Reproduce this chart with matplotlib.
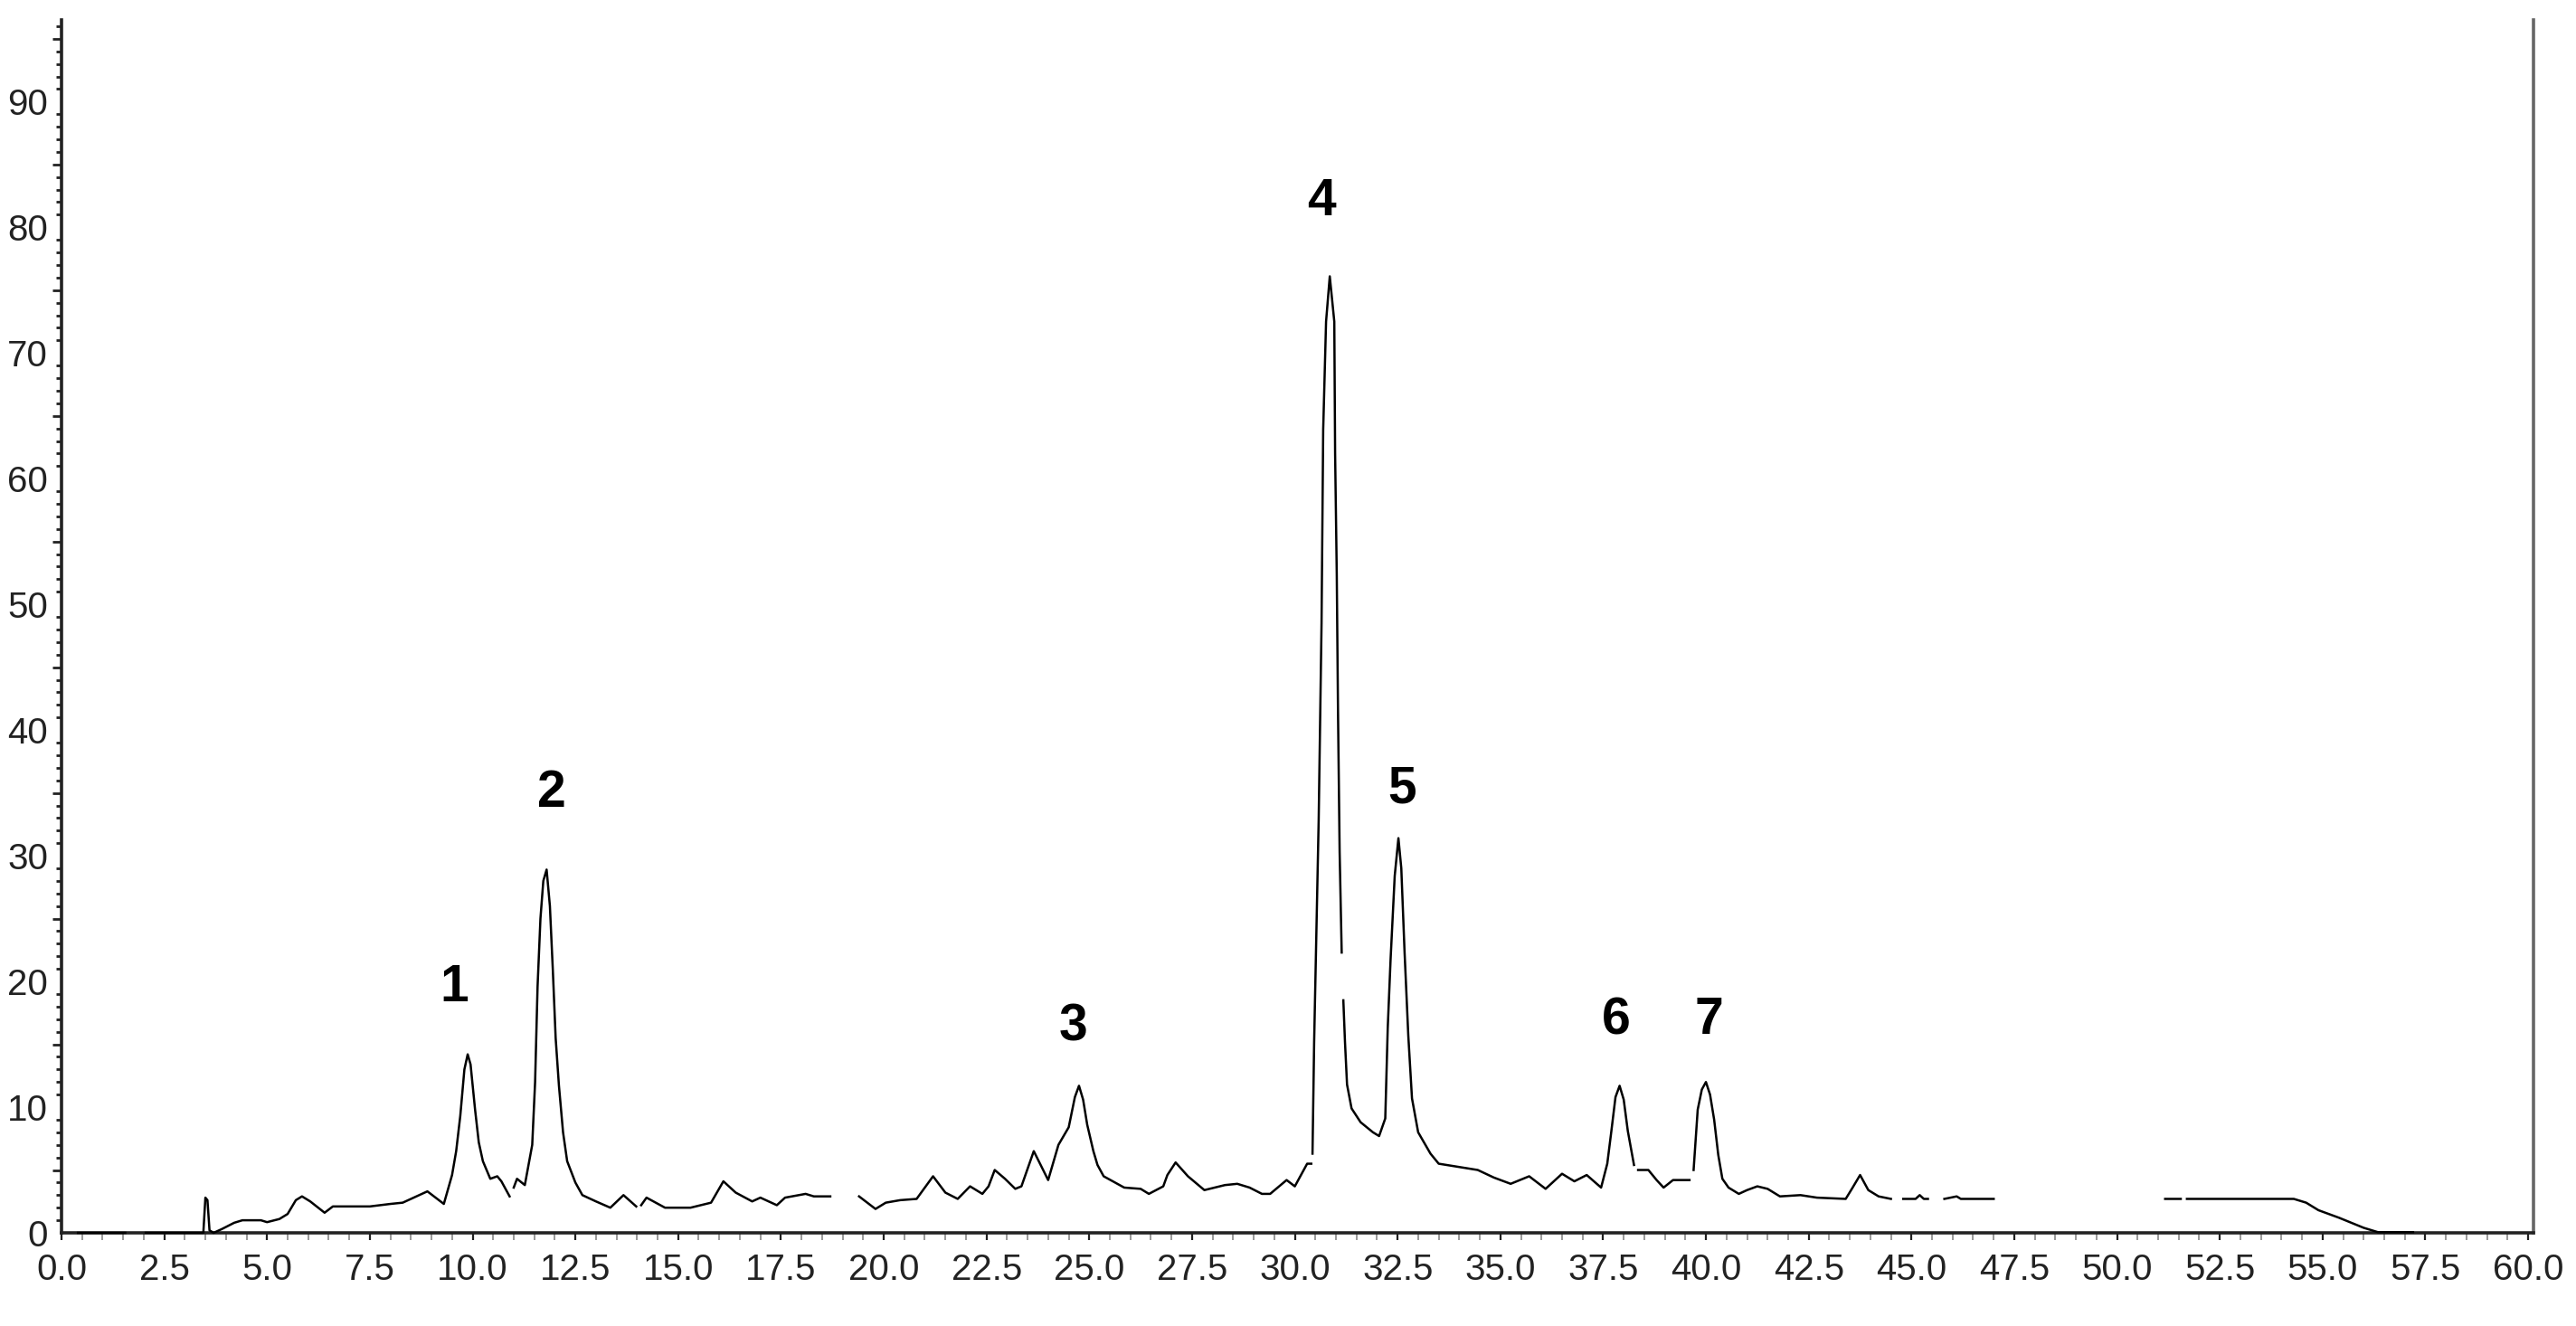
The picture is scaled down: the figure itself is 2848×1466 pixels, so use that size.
import numpy as np
import matplotlib
matplotlib.use('Agg')
import matplotlib.pyplot as plt
from matplotlib.ticker import MultipleLocator, FuncFormatter

plt.rcParams['font.family'] = ['Liberation Sans', 'DejaVu Sans']

nan = np.nan
# retention time (min) and detector response; nan = gap in the trace
time = [0.40, 1.55, nan, 2.05, 3.45, 3.50, 3.55, 3.60, 3.70, 3.90, 4.20, 4.40, 4.85, 5.00,
        5.30, 5.50, 5.70, 5.85, 6.05, 6.40, 6.60, 7.50, 8.00, 8.30, 8.50, 8.90, 9.10, 9.30,
        9.50, 9.60, 9.70, 9.80, 9.88, 9.95, 10.06, 10.15, 10.25, 10.43, 10.60, 10.70, 10.90,
        nan, 11.00, 11.08, 11.27, 11.45, 11.52, 11.58, 11.65, 11.72, 11.80, 11.88, 11.95,
        12.02, 12.10, 12.20, 12.30, 12.50, 12.67, 13.00, 13.35, 13.67,
        13.98, nan, 14.10, 14.23, 14.68, 15.30, 15.80, 16.10, 16.40, 16.80, 17.00, 17.40,
        17.60, 18.10, 18.30, 18.70, nan, 19.40, 19.80, 20.05, 20.40, 20.80, 21.20, 21.50,
        21.80, 22.10, 22.40, 22.55, 22.70, 22.95, 23.20, 23.35, 23.65, 24.00, 24.25, 24.50,
        24.65, 24.75, 24.85, 24.95, 25.10, 25.20, 25.35, 25.85, 26.25, 26.45, 26.80, 26.90,
        27.10, 27.40, 27.80, 28.30, 28.60, 28.90, 29.20, 29.40, 29.80, 30.00, 30.30, 30.40,
        nan, 30.43, 30.47, 30.52, 30.58, 30.65, 30.69, 30.76, 30.85, 30.96, 30.98, 31.02,
        31.05, 31.09, 31.14, nan, 31.18, 31.22, 31.27, 31.38, 31.60, 31.90, 32.05, 32.20,
        32.26, 32.33, 32.43, 32.52, 32.59, 32.67, 32.76, 32.85, 33.00, 33.30, 33.50, 34.45,
        34.84, 35.25, 35.70, 36.10, 36.50, 36.80, 37.10, 37.45, 37.60, 37.70, 37.80, 37.90,
        38.00, 38.10, 38.25, nan, 38.35, 38.60, 38.80, 38.97, 39.20, 39.60, nan, 39.70,
        39.80, 39.90, 40.00, 40.10, 40.20, 40.30, 40.40, 40.55, 40.80,
        41.00, 41.25, 41.50, 41.80, 42.30, 42.70, 43.40, 43.55, 43.75, 43.95, 44.20, 44.50,
        nan, 44.80, 45.10, 45.20, 45.30, 45.40, nan, 45.80, 46.10, 46.20, 47.00, nan, 51.17,
        51.55, nan, 51.70, 54.30, 54.60, 54.90, 55.40, 56.00, 56.35, 57.20]
signal = [0.0, 0.0, nan, 0.0, 0.0, 2.8, 2.6, 0.2, 0.0, 0.3, 0.8, 1.0, 1.0, 0.85,
          1.1, 1.5, 2.6, 2.9, 2.5, 1.6, 2.1, 2.1, 2.3, 2.4, 2.7, 3.3, 2.8, 2.3,
          4.6, 6.5, 9.3, 13.0, 14.2, 13.4, 9.8, 7.2, 5.7, 4.3, 4.5, 4.1, 2.9,
          nan, 3.6, 4.3, 3.8, 7.0, 12.0, 19.6, 25.0, 28.0, 28.9, 26.0, 21.0,
          15.5, 11.7, 8.0, 5.7, 4.0, 3.0, 2.5, 2.0, 3.0,
          2.1, nan, 2.2, 2.8, 2.0, 2.0, 2.4, 4.1, 3.2, 2.5, 2.8, 2.2,
          2.8, 3.1, 2.9, 2.9, nan, 2.9, 1.9, 2.4, 2.6, 2.7, 4.5, 3.2,
          2.7, 3.7, 3.1, 3.7, 5.0, 4.3, 3.5, 3.7, 6.5, 4.2, 7.0, 8.4,
          10.8, 11.7, 10.6, 8.6, 6.5, 5.4, 4.5, 3.6, 3.5, 3.1, 3.7, 4.6,
          5.6, 4.5, 3.4, 3.8, 3.9, 3.6, 3.1, 3.1, 4.2, 3.7, 5.5, 5.5,
          nan, 6.3, 15.2, 23.1, 32.8, 48.5, 63.9, 72.5, 76.1, 72.5, 62.0, 52.4,
          41.6, 30.3, 22.3, nan, 18.5, 15.2, 11.8, 9.9, 8.8, 8.0, 7.7, 9.1,
          16.3, 21.8, 28.4, 31.4, 29.0, 22.3, 15.7, 10.7, 8.0, 6.3, 5.5, 5.0,
          4.4, 3.9, 4.5, 3.5, 4.7, 4.1, 4.6, 3.6, 5.5, 8.1, 10.8, 11.7,
          10.6, 8.1, 5.4, nan, 5.0, 5.0, 4.2, 3.6, 4.2, 4.2, nan, 5.0,
          9.8, 11.4, 12.0, 11.0, 9.0, 6.2, 4.3, 3.6, 3.1,
          3.4, 3.7, 3.5, 2.9, 3.0, 2.8, 2.7, 3.5, 4.6, 3.4, 2.9, 2.7,
          nan, 2.7, 2.7, 3.0, 2.7, 2.7, nan, 2.7, 2.9, 2.7, 2.7, nan, 2.7,
          2.7, nan, 2.7, 2.7, 2.4, 1.8, 1.2, 0.4, 0.05, 0.05]

peak_labels = ['1', '2', '3', '4', '5', '6', '7']
peak_label_x = [9.55, 11.93, 24.6, 30.65, 32.6, 37.82, 40.07]
peak_label_y = [19.5, 35.0, 16.4, 82.0, 35.3, 16.9, 16.9]

fig = plt.figure(figsize=(14.24, 7.33), dpi=200)
ax = fig.add_axes([68 / 2848, 1 - 1363 / 1466, (2801 - 68) / 2848, (1363 - 22) / 1466])

ax.plot(time, signal, '-', color='black', lw=0.9, clip_on=False, zorder=3)
for lab, x, y in zip(peak_labels, peak_label_x, peak_label_y):
    ax.text(x, y, lab, ha='center', va='center', fontsize=20.5, fontweight='bold')

ax.set_xlim(0, 60.13)
ax.set_ylim(0, 96.5)

ax.xaxis.set_major_locator(MultipleLocator(2.5))
ax.xaxis.set_minor_locator(MultipleLocator(0.5))
ax.xaxis.set_major_formatter(FuncFormatter(lambda v, p: f'{v:.1f}'))
ax.yaxis.set_major_locator(MultipleLocator(5))
ax.yaxis.set_minor_locator(MultipleLocator(1))
ax.yaxis.set_major_formatter(FuncFormatter(lambda v, p: f'{v:.0f}' if round(v) % 10 == 0 else ''))

ax.tick_params(axis='both', which='both', direction='out', labelsize=14.5, colors='#222222')
ax.tick_params(axis='x', which='major', length=3, width=0.8, pad=5)
ax.tick_params(axis='x', which='minor', length=3, width=0.6, color='#888888')
ax.tick_params(axis='y', which='major', length=3.6, width=1.0, pad=1.8)
ax.tick_params(axis='y', which='minor', length=2.0, width=1.0)

fig.canvas.draw()
for tick in ax.yaxis.get_major_ticks():
    if round(tick.get_loc()) % 10 == 0:
        tick.tick1line.set_visible(False)

ax.spines['top'].set_visible(False)
ax.spines['left'].set_color('#222222')
ax.spines['left'].set_linewidth(1.3)
ax.spines['bottom'].set_color('#222222')
ax.spines['bottom'].set_linewidth(1.3)
ax.spines['right'].set_color('#666666')
ax.spines['right'].set_linewidth(1.3)

fig.savefig('out.png', dpi=200)
